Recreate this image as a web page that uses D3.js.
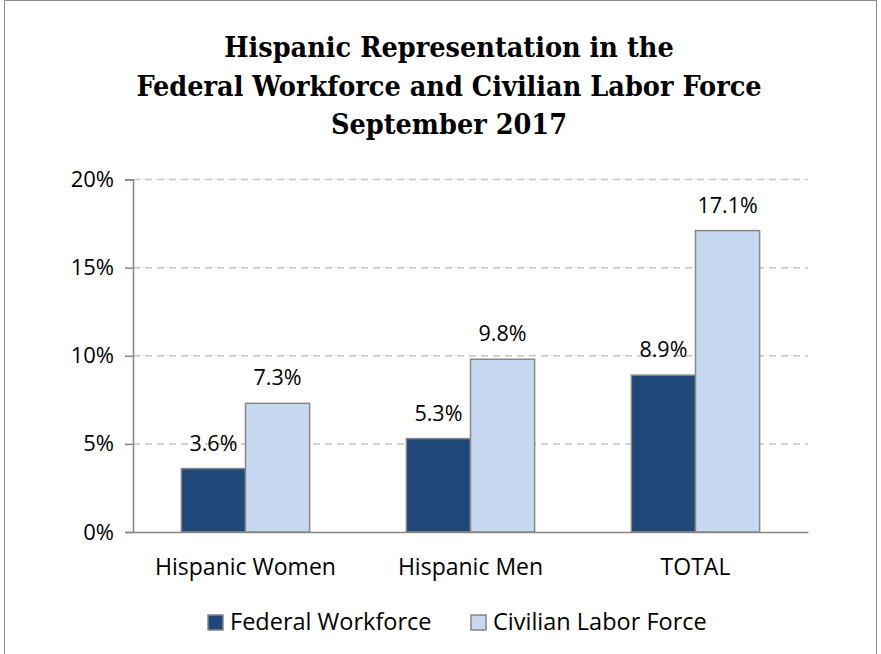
<!DOCTYPE html>
<html>
<head>
<meta charset="utf-8">
<script src="https://cdn.jsdelivr.net/npm/d3@7"></script>
<style>
  body { margin: 0; background: #fff; }
  svg { display: block; }
</style>
</head>
<body>
<div id="chart"></div>
<script>
const categories = ["Hispanic Women", "Hispanic Men", "TOTAL"];
const seriesNames = ["Federal Workforce", "Civilian Labor Force"];
const federal = [3.6, 5.3, 8.9];
const civilian = [7.3, 9.8, 17.1];
const yTicks = [0, 5, 10, 15, 20];
const titleLines = ["Hispanic Representation in the", "Federal Workforce and Civilian Labor Force", "September 2017"];

const width = 881;
const height = 654;
const colors = ["#1f4778", "#c6d9f1"];
const bodyFont = "'Open Sans', Lato, sans-serif";

const svg = d3.select("#chart")
  .append("svg")
  .attr("width", width)
  .attr("height", height);

// outer frame
svg.append("rect")
  .attr("x", 4.5).attr("y", 0.5)
  .attr("width", 872).attr("height", 660)
  .attr("fill", "#fff")
  .attr("stroke", "#8c8c8c");

// title
svg.append("g")
  .selectAll("text")
  .data(titleLines)
  .enter()
  .append("text")
  .attr("x", 449)
  .attr("y", (d, i) => 57 + i * 38.5)
  .attr("text-anchor", "middle")
  .style("font-family", "'DejaVu Serif Condensed', 'Liberation Serif', serif")
  .style("font-weight", "bold")
  .style("font-size", "28.5px")
  .attr("fill", "#000")
  .text(d => d);

const plotLeft = 133, plotRight = 808, plotTop = 179.5, plotBottom = 532;

const y = d3.scaleLinear().domain([0, 20]).range([plotBottom, plotTop]);
const x0 = d3.scaleBand().domain(categories).range([plotLeft, plotRight])
  .paddingInner(0.43).paddingOuter(0.215);
const x1 = d3.scaleBand().domain(seriesNames).range([0, x0.bandwidth()]);

// dashed gridlines
svg.append("g")
  .selectAll("line")
  .data(yTicks.filter(d => d > 0))
  .enter()
  .append("line")
  .attr("x1", plotLeft).attr("x2", plotRight)
  .attr("y1", d => y(d)).attr("y2", d => y(d))
  .attr("stroke", "#c4c4c4")
  .attr("stroke-width", 1.5)
  .attr("stroke-dasharray", "7,5");

// y axis
const yAxis = svg.append("g")
  .attr("transform", `translate(${plotLeft},0)`)
  .call(d3.axisLeft(y).tickValues(yTicks).tickFormat(d => d + "%").tickSize(8).tickPadding(11));
yAxis.select(".domain").attr("stroke", "#868686").attr("stroke-width", 1.5);
yAxis.selectAll(".tick line").attr("stroke", "#868686").attr("stroke-width", 1.5);
yAxis.selectAll("text")
  .style("font-family", bodyFont)
  .style("font-size", "22px")
  .attr("fill", "#000");

// bars
const rows = categories.map((c, i) => ({ cat: c, vals: [federal[i], civilian[i]] }));
const groups = svg.append("g")
  .selectAll("g")
  .data(rows)
  .enter()
  .append("g")
  .attr("transform", d => `translate(${x0(d.cat)},0)`);

groups.selectAll("rect")
  .data(d => d.vals.map((v, j) => ({ key: seriesNames[j], value: v, j: j })))
  .enter()
  .append("rect")
  .attr("x", d => x1(d.key))
  .attr("y", d => y(d.value))
  .attr("width", x1.bandwidth())
  .attr("height", d => plotBottom - y(d.value))
  .attr("fill", d => colors[d.j])
  .attr("stroke", "#878787")
  .attr("stroke-width", 1.5);

groups.selectAll("text")
  .data(d => d.vals.map((v, j) => ({ key: seriesNames[j], value: v })))
  .enter()
  .append("text")
  .attr("x", d => x1(d.key) + x1.bandwidth() / 2)
  .attr("y", d => y(d.value) - 18)
  .attr("text-anchor", "middle")
  .style("font-family", bodyFont)
  .style("font-size", "21.5px")
  .attr("fill", "#000")
  .text(d => d.value.toFixed(1) + "%");

// x axis
const xAxis = svg.append("g")
  .attr("transform", `translate(0,${plotBottom})`)
  .call(d3.axisBottom(x0).tickSize(0).tickPadding(27));
xAxis.select(".domain").attr("stroke", "#868686").attr("stroke-width", 1.5);
xAxis.selectAll("text")
  .style("font-family", bodyFont)
  .style("font-size", "23px")
  .attr("fill", "#000");

// legend
const legendX = [208, 471];
const legend = svg.append("g").attr("id", "legend");
legend.selectAll("rect")
  .data(seriesNames)
  .enter()
  .append("rect")
  .attr("x", (d, i) => legendX[i])
  .attr("y", 615)
  .attr("width", 15).attr("height", 15)
  .attr("fill", (d, i) => colors[i])
  .attr("stroke", "#878787")
  .attr("stroke-width", 1.5);
legend.selectAll("text")
  .data(seriesNames)
  .enter()
  .append("text")
  .attr("x", (d, i) => legendX[i] + 22)
  .attr("y", 630)
  .style("font-family", bodyFont)
  .style("font-size", "23.5px")
  .attr("fill", "#000")
  .text(d => d);
</script>
</body>
</html>
